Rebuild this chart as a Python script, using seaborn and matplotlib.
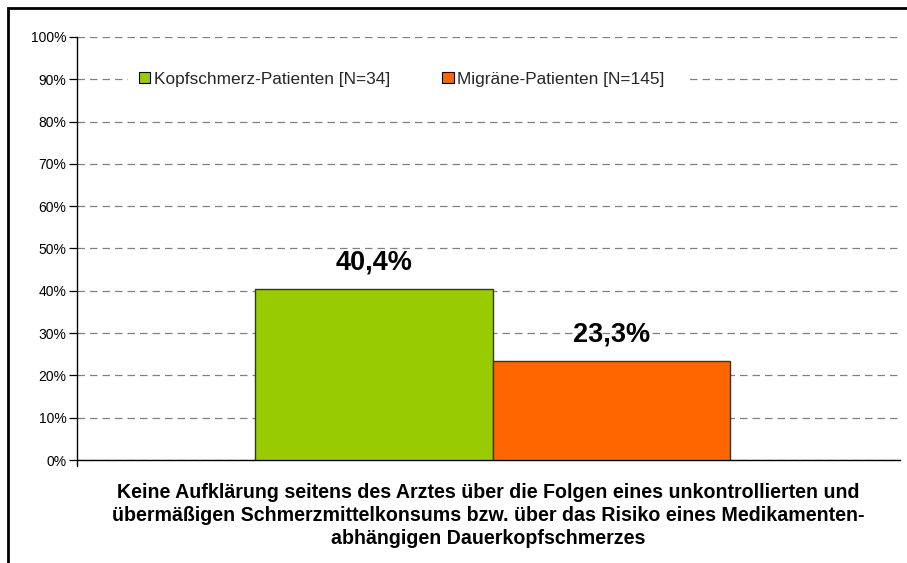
import matplotlib
matplotlib.use("Agg")
import matplotlib.pyplot as plt
import matplotlib.transforms as mtransforms
import seaborn as sns
import pandas as pd
from matplotlib.patches import Rectangle

# Data
groups = ["Kopfschmerz-Patienten [N=34]", "Migräne-Patienten [N=145]"]
values = [40.4, 23.3]
value_labels = ["40,4%", "23,3%"]
colors = ["#99CC00", "#FF6600"]
category = "Keine Aufklärung"
y_ticks = [0, 10, 20, 30, 40, 50, 60, 70, 80, 90, 100]
x_title = ("Keine Aufklärung seitens des Arztes über die Folgen eines unkontrollierten und\n"
           "übermäßigen Schmerzmittelkonsums bzw. über das Risiko eines Medikamenten-\n"
           "abhängigen Dauerkopfschmerzes")

df = pd.DataFrame({"cat": [category] * len(groups), "group": groups, "value": values})

sns.set_theme(style="white")
plt.rcParams["font.family"] = ["Liberation Sans", "DejaVu Sans"]

W, H = 907, 563
fig = plt.figure(figsize=(W / 100, H / 100), dpi=100)
ax_left, ax_right, ax_top, ax_bottom = 77, 900, 37, 460
ax = fig.add_axes([ax_left / W, 1 - ax_bottom / H,
                   (ax_right - ax_left) / W, (ax_bottom - ax_top) / H])

sns.barplot(data=df, x="cat", y="value", hue="group", palette=colors,
            saturation=1, width=0.577, edgecolor="#333333", linewidth=1.0,
            ax=ax, legend=False, zorder=3)

ax.set_ylim(0, 100)
ax.set_xlim(-0.505, 0.495)
ax.set_yticks(y_ticks)
ax.set_yticklabels([f"{t}%" for t in y_ticks], fontsize=10)
ax.set_xticks([])
ax.yaxis.grid(True, linestyle=(0, (6, 4)), color="#808080", linewidth=0.9)
ax.set_axisbelow(True)
ax.tick_params(axis="y", which="both", left=True, length=6, width=0.9,
               color="black", pad=1.5, labelcolor="black")
for s in ["top", "right"]:
    ax.spines[s].set_visible(False)
for s in ["left", "bottom"]:
    ax.spines[s].set_color("black")
    ax.spines[s].set_linewidth(1.0)
ax.set_ylabel("")
ax.set_xlabel("")

# value labels above bars
for patch, lab in zip(ax.patches, value_labels):
    cx = patch.get_x() + patch.get_width() / 2
    ax.text(cx, patch.get_height() + 3.2, lab, ha="center", va="bottom",
            fontsize=19.5, fontweight="bold", color="black")

# small category tick below the axis at the left
ax.plot([-0.505, -0.505], [0, -1.5], color="black", lw=1.0, clip_on=False)

ax.text(0.5, -0.054, x_title, transform=ax.transAxes, ha="center", va="top",
        fontsize=14.1, fontweight="bold", linespacing=1.27, color="black")

# legend area: white band interrupting the 90% gridline
def px(x):
    return (x - ax_left) / (ax_right - ax_left)

band_tf = mtransforms.blended_transform_factory(ax.transAxes, ax.transData)
ax.add_patch(Rectangle((px(128), 86.5), px(690) - px(128), 7, transform=band_tf,
                       facecolor="white", edgecolor="none", zorder=2))

handles = [Rectangle((0, 0), 1, 1, facecolor=c, edgecolor="black", linewidth=0.8)
           for c in colors]
leg = ax.legend(handles, groups, ncol=2, loc="center left",
                bbox_to_anchor=(px(139), 0.9), frameon=False, fontsize=12.4,
                handlelength=0.65, handleheight=0.65, handletextpad=0.2,
                columnspacing=3.05, borderpad=0, borderaxespad=0)
leg.set_zorder(5)

# outer frame
fig.patches.append(Rectangle((8 / W, -0.05), 1.1, 1 - 8 / H + 0.05,
                             transform=fig.transFigure, fill=False,
                             edgecolor="black", linewidth=2.0))

fig.savefig("out.png", dpi=100)
